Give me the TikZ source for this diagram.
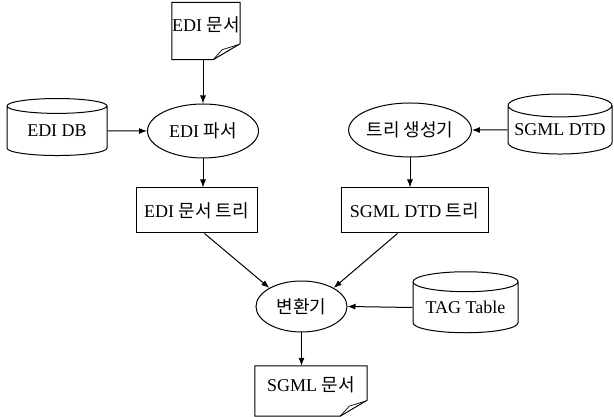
\documentclass[tikz,border=0pt]{standalone}
\usepackage{fontspec}
\setmainfont{Liberation Serif}
\newfontfamily\kr{Noto Sans CJK KR}
\usetikzlibrary{arrows.meta,calc,positioning}
\usetikzlibrary{shapes.geometric}

\tikzset{
  every node/.style={font=\fontsize{18}{21}\selectfont, inner sep=0pt},
  dbcyl/.style={cylinder, shape border rotate=90, draw, aspect=0.25,
    line width=1pt},
  proc/.style={ellipse, draw, line width=1pt},
  treebox/.style={rectangle, draw, line width=1pt},
  docnode/.style={rectangle, draw=none, text depth=13pt},
  flow/.style={line width=1pt, -{Latex[length=8pt,width=6pt]}}
}

\begin{document}
\begin{tikzpicture}[x=1pt,y=1pt]
\useasboundingbox (0,0) rectangle (614,417);
\node[docnode, minimum width=68pt, minimum height=57pt] (edidoc) at (206,386) {EDI {\kr 문서}};
\node[dbcyl, minimum width=100pt, minimum height=57pt] (edidb) at (57,286) {EDI DB};
\node[proc, minimum width=111pt, minimum height=54pt] (ediparse) at (203,286) {EDI {\kr 파서}};
\node[proc, minimum width=120pt, minimum height=54pt] (treegen) at (410,287) {\kr 트리 생성기};
\node[dbcyl, minimum width=104pt, minimum height=60pt] (sgmldtd) at (560,287) {SGML DTD};
\node[treebox, minimum width=121pt, minimum height=45pt] (editree) at (196.5,206.5) {EDI {\kr 문서 트리}};
\node[treebox, minimum width=147pt, minimum height=45pt] (dtdtree) at (414.5,206.5) {SGML DTD {\kr 트리}};
\node[proc, minimum width=91pt, minimum height=51pt] (conv) at (301.5,110.5) {\kr 변환기};
\node[dbcyl, minimum width=105pt, minimum height=61pt] (tagtab) at (465.5,109.5) {TAG Table};
\node[docnode, minimum width=112pt, minimum height=50pt] (sgmldoc) at (311,26) {SGML {\kr 문서}};
% document outlines with folded corner
\draw[line width=1pt] (edidoc.north west) -- (edidoc.north east)
  -- ($(edidoc.south east)+(0,16)$) -- ($(edidoc.south east)+(-27,0)$)
  -- (edidoc.south west) -- cycle;
\draw[line width=0.7pt] ($(edidoc.south east)+(-27,0)$) -- ($(edidoc.south east)+(-18,10)$)
  -- ($(edidoc.south east)+(-2,15)$);
\draw[line width=1pt] (sgmldoc.north west) -- (sgmldoc.north east)
  -- ($(sgmldoc.south east)+(0,16)$) -- ($(sgmldoc.south east)+(-27,0)$)
  -- (sgmldoc.south west) -- cycle;
\draw[line width=0.7pt] ($(sgmldoc.south east)+(-27,0)$) -- ($(sgmldoc.south east)+(-18,10)$)
  -- ($(sgmldoc.south east)+(-2,15)$);
% connectors
\draw[flow] (edidoc.south -| ediparse.north) -- (ediparse.north);
\draw[flow] (edidb.east) -- (ediparse.west);
\draw[flow] (sgmldtd.west) -- (treegen.east);
\draw[flow] (ediparse.south) -- (ediparse.south |- editree.north);
\draw[flow] (treegen.south) -- (treegen.south |- dtdtree.north);
\draw[flow] ($(editree.south)+(8,0)$) -- (conv.150);
\draw[flow] ($(dtdtree.south)+(-17,0)$) -- (conv.30);
\draw[flow] (tagtab.west) -- (conv.east);
\draw[flow] (conv.south) -- (conv.south |- sgmldoc.north);
\end{tikzpicture}
\end{document}
